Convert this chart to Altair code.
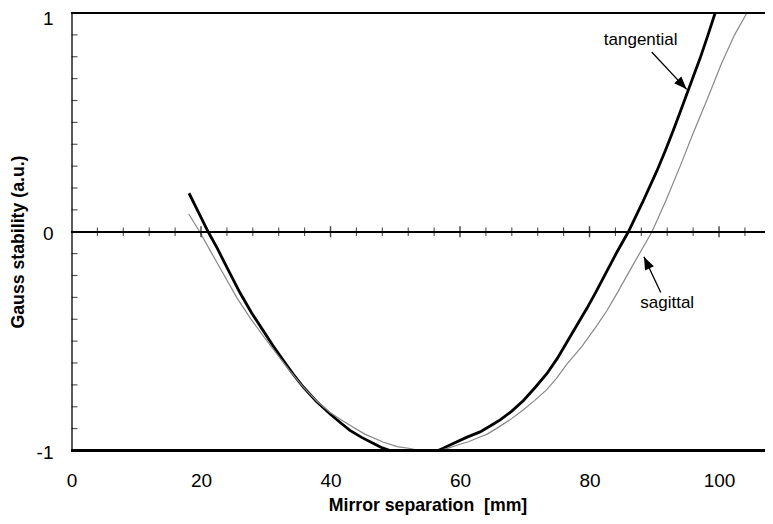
import altair as alt
import pandas as pd

# ---- data ----
tan_x = [18.15, 19.6, 21.1, 22.5, 24.0, 26.0, 27.8, 29.6, 31.1, 32.7, 34.2, 35.8, 37.8, 39.9,
         41.5, 43.0, 44.8, 46.8, 48.0, 49.2, 51.0, 53.0, 55.0, 56.6, 57.4, 59.2, 61.0, 63.1,
         65.1, 66.2, 68.0, 69.8, 71.6, 73.4, 75.0, 76.5, 78.0, 79.6, 81.0, 82.5, 84.2, 86.0,
         88.2, 90.4, 91.7, 92.9, 94.1, 95.3, 97.1, 98.3, 99.4]
tan_y = [0.176, 0.09, 0.0, -0.075, -0.163, -0.278, -0.37, -0.452, -0.52, -0.588, -0.65, -0.71,
         -0.775, -0.832, -0.872, -0.908, -0.94, -0.97, -0.988, -1.0, -1.0, -1.0, -1.0, -1.0,
         -0.99, -0.965, -0.94, -0.915, -0.88, -0.86, -0.82, -0.771, -0.712, -0.649, -0.58,
         -0.505, -0.43, -0.35, -0.275, -0.19, -0.095, 0.0, 0.135, 0.278, 0.37, 0.461, 0.555,
         0.651, 0.795, 0.9, 1.0]

sag_x = [18.1, 19.8, 21.4, 23.4, 25.5, 27.6, 29.7, 31.7, 33.7, 35.8, 37.9, 39.9, 41.5, 43.0,
         45.3, 48.1, 50.3, 52.3, 53.8, 55.3, 56.8, 58.1, 59.5, 61.3, 63.1, 64.2, 65.6, 67.7,
         69.7, 71.5, 73.4, 74.9, 76.5, 78.8, 81.1, 82.7, 84.2, 86.8, 89.65, 91.9, 94.0, 96.0,
         98.1, 100.4, 102.4, 104.3]
sag_y = [0.081, 0.0, -0.085, -0.19, -0.3, -0.395, -0.48, -0.558, -0.635, -0.71, -0.775,
         -0.825, -0.857, -0.885, -0.925, -0.961, -0.982, -0.991, -1.0, -1.0, -1.0, -0.99,
         -0.976, -0.96, -0.938, -0.925, -0.9, -0.86, -0.816, -0.772, -0.722, -0.67, -0.605,
         -0.525, -0.43, -0.36, -0.284, -0.147, 0.0, 0.15, 0.3, 0.45, 0.6, 0.77, 0.9, 1.0]

x_label_values = [0, 20, 40, 60, 80, 100]
y_label_values = [-1, 0, 1]
x_major_ticks = [20, 40, 60, 80, 100]
x_minor_ticks = [v for v in range(4, 107, 4) if v % 20 != 0]
y_minor_ticks = [round(i / 10, 1) for i in range(-9, 10) if i != 0]

ann_text = ["tangential", "sagittal"]
ann_tx = [87.9, 92.0]
ann_ty = [0.856, -0.347]
arr_x1 = [89.6, 91.0]
arr_y1 = [0.822, -0.278]
arr_x2 = [95.0, 88.4]
arr_y2 = [0.651, -0.114]
arr_angle = [137, 334.7]

FONT = "Liberation Sans"

tan_df = pd.DataFrame({"x": tan_x, "y": tan_y})
sag_df = pd.DataFrame({"x": sag_x, "y": sag_y})
text_df = pd.DataFrame({"x": ann_tx, "y": ann_ty, "t": ann_text})
arr_df = pd.DataFrame({"x1": arr_x1, "y1": arr_y1, "x2": arr_x2, "y2": arr_y2, "a": arr_angle})
xmin_df = pd.DataFrame({"x": x_minor_ticks})
xmaj_df = pd.DataFrame({"x": x_major_ticks})
ymin_df = pd.DataFrame({"y": y_minor_ticks})

xscale = alt.Scale(domain=[0, 107.1], nice=False, zero=False)
yscale = alt.Scale(domain=[-1, 1], nice=False, zero=False)

x_enc = alt.X("x:Q", scale=xscale, axis=alt.Axis(
    values=x_label_values, title="Mirror separation \u00a0[mm]", ticks=False, domain=False,
    labelFlush=False, labelPadding=21, labelFontSize=19, titleFontSize=17.7,
    titleFontWeight="bold", titleX=356, titleY=46, grid=False))
y_enc = alt.Y("y:Q", scale=yscale, axis=alt.Axis(
    values=y_label_values, title="Gauss stability (a.u.)", ticks=False, domain=True,
    domainColor="black", domainWidth=1.3, labelExpr="'' + datum.value",
    labelPadding=18.5,
    labelOffset={"condition": {"test": "datum.value == 1", "value": 5}, "value": 1.5},
    labelFontSize=19, titleFontSize=17.7,
    titleFontWeight="bold", titleX=-44, titleY=228.5, grid=False))

tan_line = alt.Chart(tan_df).mark_line(color="black", strokeWidth=2.8).encode(x=x_enc, y=y_enc)
sag_line = alt.Chart(sag_df).mark_line(color="#888888", strokeWidth=1.2).encode(x="x:Q", y="y:Q")

top_rule = alt.Chart(tan_df).mark_rule(color="black", strokeWidth=1.3).encode(
    x=alt.value(0), x2=alt.value(700), y=alt.datum(1))
bot_rule = alt.Chart(tan_df).mark_rule(color="black", strokeWidth=1.3).encode(
    x=alt.value(0), x2=alt.value(700), y=alt.datum(-1))
zero_rule = alt.Chart(tan_df).mark_rule(color="black", strokeWidth=1.2).encode(
    x=alt.value(0), x2=alt.value(700), y=alt.datum(0))

xminor = alt.Chart(xmin_df).mark_tick(orient="vertical", size=8.5, thickness=1.1,
                                       color="black").encode(x="x:Q", y=alt.datum(0))
xmajor = alt.Chart(xmaj_df).mark_tick(orient="vertical", size=11, thickness=1.5,
                                       color="black").encode(x="x:Q", y=alt.datum(0))
yminor = alt.Chart(ymin_df).mark_tick(orient="horizontal", size=6, thickness=1.1,
                                       color="black").encode(x=alt.value(3), y="y:Q")

labels = alt.Chart(text_df).mark_text(align="center", baseline="alphabetic", fontSize=17,
                                      font=FONT, color="black").encode(
    x="x:Q", y="y:Q", text="t:N")
arrow_lines = alt.Chart(arr_df).mark_rule(color="black", strokeWidth=1.3).encode(
    x="x1:Q", y="y1:Q", x2="x2:Q", y2="y2:Q")
arrow_heads = alt.Chart(arr_df).mark_point(
    shape="M0,0L-0.75,2L0.75,2Z", filled=True, size=169, color="black", opacity=1,
    strokeWidth=0).encode(x="x2:Q", y="y2:Q", angle=alt.Angle("a:Q", scale=None))

chart = alt.layer(
    tan_line, sag_line, top_rule, bot_rule, zero_rule, xminor, xmajor, yminor,
    labels, arrow_lines, arrow_heads
).properties(
    width=693.5, height=437.5,
    autosize=alt.AutoSizeParams(type="none"),
    padding={"left": 63.5, "top": 5, "right": 0, "bottom": 65},
).configure_view(stroke=None).configure_axis(
    labelFont=FONT, titleFont=FONT, labelColor="black", titleColor="black"
)

chart.save("out.html", embed_options={"renderer": "svg", "actions": False})
